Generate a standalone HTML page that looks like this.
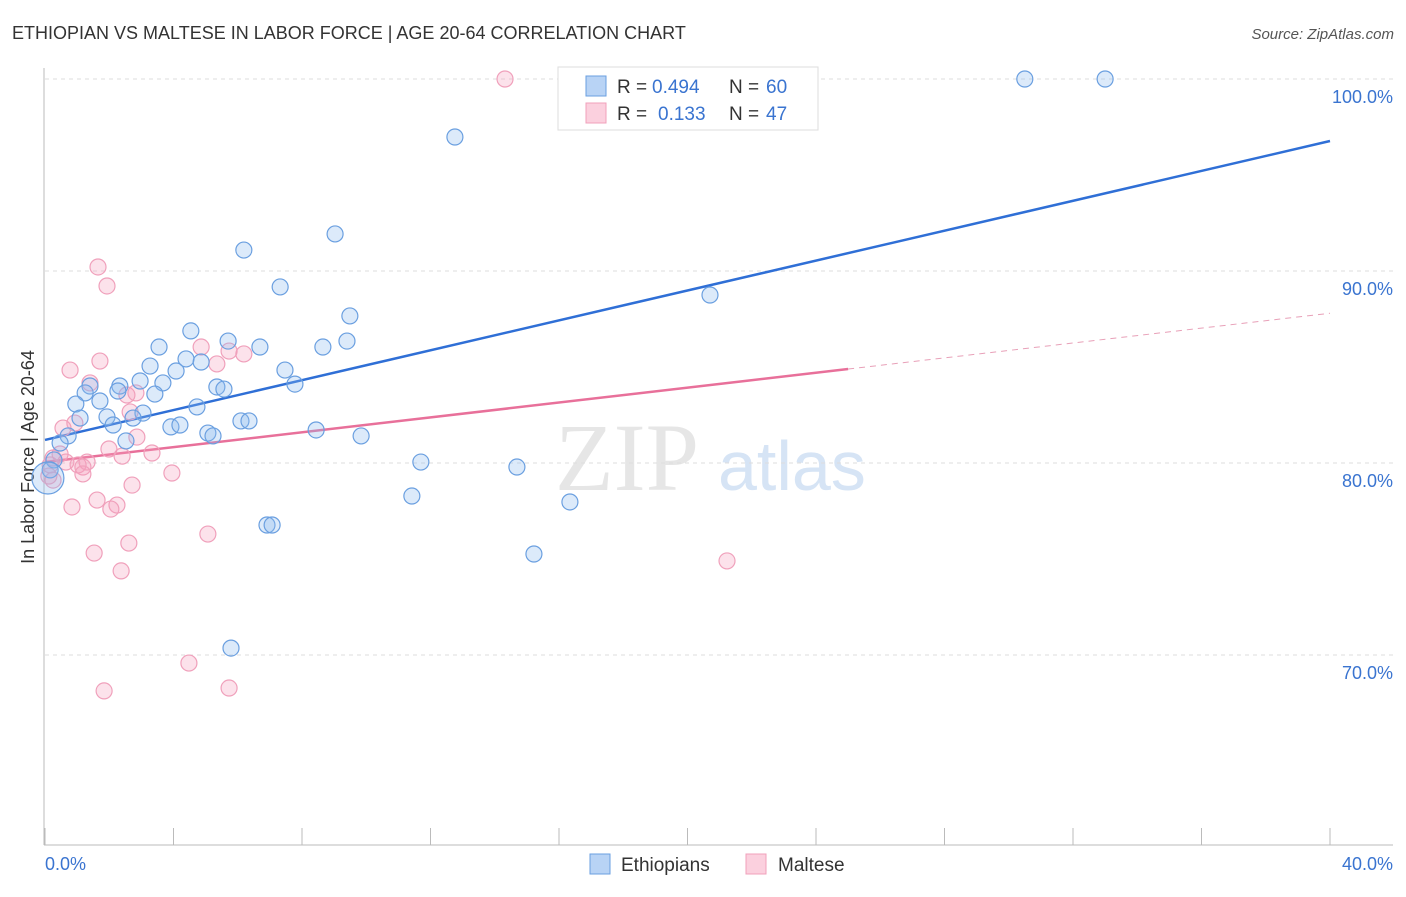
<!DOCTYPE html>
<html><head><meta charset="utf-8"><style>
body{margin:0;background:#fff;font-family:"Liberation Sans",sans-serif}
</style></head><body>
<svg id="c" width="1406" height="892" xmlns="http://www.w3.org/2000/svg">
<text x="12" y="39" font-size="18" fill="#333">ETHIOPIAN VS MALTESE IN LABOR FORCE | AGE 20-64 CORRELATION CHART</text>
<text x="1394" y="39" font-size="15" fill="#555" font-style="italic" text-anchor="end">Source: ZipAtlas.com</text>
<text x="555" y="490" font-size="96" fill="#e6e6e6" font-family="Liberation Serif,serif">ZIP</text>
<text x="718" y="490" font-size="70" fill="#d6e4f5">atlas</text>
<text transform="translate(34,457) rotate(-90)" font-size="18" fill="#333" text-anchor="middle">In Labor Force | Age 20-64</text>
<g id="grid"></g><g id="axes"></g><g id="lines"></g><g id="pts"></g>
<g>
<rect x="558" y="67" width="260" height="63" fill="#fff" stroke="#ddd"/>
<rect x="586" y="76" width="20" height="20" fill="#b8d3f5" stroke="#6a9fe0"/>
<rect x="586" y="103" width="20" height="20" fill="#fbd0de" stroke="#f0a0bb"/>
<text x="617" y="93" font-size="19" fill="#333">R =</text>
<text x="652" y="93" font-size="19" fill="#3a74d0">0.494</text>
<text x="729" y="93" font-size="19" fill="#333">N =</text>
<text x="766" y="93" font-size="19" fill="#3a74d0">60</text>
<text x="617" y="120" font-size="19" fill="#333">R =</text>
<text x="658" y="120" font-size="19" fill="#3a74d0">0.133</text>
<text x="729" y="120" font-size="19" fill="#333">N =</text>
<text x="766" y="120" font-size="19" fill="#3a74d0">47</text>
</g>
<g>
<rect x="590" y="854" width="20" height="20" fill="#b8d3f5" stroke="#6a9fe0"/>
<text x="621" y="871" font-size="19" fill="#333">Ethiopians</text>
<rect x="746" y="854" width="20" height="20" fill="#fbd0de" stroke="#f0a0bb"/>
<text x="778" y="871" font-size="19" fill="#333">Maltese</text>
</g>
</svg>
<script>
const yTicks=[70,80,90,100];
const xTickLabels=["0.0%","40.0%"];
const blueX=[30.5,33.0,12.76,9.03,6.19,7.32,20.70,9.49,4.54,5.70,6.69,3.55,9.40,8.65,4.39,4.86,3.27,4.08,7.47,2.96,3.67,5.35,5.57,7.78,1.40,2.33,1.25,3.42,2.27,1.71,0.96,3.05,4.73,1.09,1.93,2.74,2.12,6.10,6.35,3.92,4.20,5.07,5.23,8.44,9.84,0.72,2.52,0.47,11.70,14.69,0.28,0.16,11.42,16.34,6.91,7.07,15.22,5.79,0.09];
const blueY=[100,100,96.98,91.93,91.09,89.17,88.75,87.66,86.88,86.35,86.04,86.04,86.35,86.04,85.42,85.26,85.05,84.79,84.84,84.27,84.17,83.96,83.85,84.11,84.01,84.01,83.65,83.59,83.75,83.23,83.07,82.60,82.92,82.34,82.40,82.34,81.98,82.19,82.19,81.88,81.98,81.56,81.41,81.72,81.41,81.41,81.15,81.04,80.05,79.79,80.16,79.64,78.28,77.97,76.77,76.77,75.26,70.36,79.22];
const pinkX=[14.32,1.65,1.93,4.86,5.73,6.19,5.35,1.71,0.78,1.40,2.55,2.83,2.65,0.93,0.56,2.86,1.99,3.33,2.40,0.47,0.25,0.65,1.31,1.03,1.18,0.16,1.18,3.95,0.12,0.25,2.71,1.62,0.84,2.24,2.05,2.61,5.07,1.53,2.37,21.23,4.48,1.84,5.73];
const pinkY=[100,90.21,89.22,86.04,85.83,85.68,85.16,85.31,84.84,84.17,83.54,83.65,82.66,82.08,81.82,81.35,80.73,80.52,80.36,80.47,80.26,80.05,80.05,79.90,79.79,79.90,79.43,79.48,79.32,79.11,78.85,78.07,77.71,77.81,77.60,75.83,76.30,75.31,74.38,74.90,69.58,68.13,68.28];
const blueTrend=[81.2,96.77];
const pinkTrend=[80.05,87.8];
const pinkSolidEnd=25;
const NS="http://www.w3.org/2000/svg";
const X=v=>45+v*32.125, Y=v=>79+(100-v)*19.2;
function mk(t,a,p){const e=document.createElementNS(NS,t);for(const k in a)e.setAttribute(k,a[k]);p.appendChild(e);return e;}
const g=document.getElementById('grid'),ax=document.getElementById('axes'),ln=document.getElementById('lines'),pts=document.getElementById('pts');
yTicks.forEach(t=>{
 const l=mk('line',{x1:45,x2:1393,y1:Y(t),y2:Y(t),stroke:'#ddd','stroke-dasharray':'4,4'},g);
 
 
 const tx=mk('text',{x:1393,y:Y(t)+24,'font-size':18,fill:'#3a74d0','text-anchor':'end'},g);
 tx.textContent=t.toFixed(1)+'%';
 
 
});
mk('line',{x1:44,x2:44,y1:68,y2:845,stroke:'#bbb'},ax);
mk('line',{x1:44,x2:1393,y1:845,y2:845,stroke:'#bbb'},ax);
for(let i=0;i<=10;i++){const x=X(i*4);mk('line',{x1:x,x2:x,y1:828,y2:845,stroke:'#bbb'},ax);}
const xl0=mk('text',{x:45,y:870,'font-size':18,fill:'#3a74d0'},ax);xl0.textContent=xTickLabels[0];


const xl1=mk('text',{x:1393,y:870,'font-size':18,fill:'#3a74d0','text-anchor':'end'},ax);xl1.textContent=xTickLabels[1];


const bl=mk('line',{x1:X(0),y1:Y(blueTrend[0]),x2:X(40),y2:Y(blueTrend[1]),stroke:'#2f6fd6','stroke-width':2.5},ln);


const pm=pinkTrend[0]+(pinkTrend[1]-pinkTrend[0])*pinkSolidEnd/40;
const pl=mk('line',{x1:X(0),y1:Y(pinkTrend[0]),x2:X(pinkSolidEnd),y2:Y(pm),stroke:'#e8709a','stroke-width':2.5},ln);


const pd=mk('line',{x1:X(pinkSolidEnd),y1:Y(pm),x2:X(40),y2:Y(pinkTrend[1]),stroke:'#e8a0b8','stroke-width':1,'stroke-dasharray':'6,5'},ln);


pinkX.forEach((v,i)=>{
 const c=mk('circle',{cx:X(v),cy:Y(pinkY[i]),r:8,fill:'rgba(244,160,190,0.3)',stroke:'#f0a0bb','stroke-width':1.2},pts);
 
 
});
blueX.forEach((v,i)=>{
 const big=i===blueX.length-1;
 const c=mk('circle',{cx:X(v),cy:Y(blueY[i]),r:big?16:8,fill:'rgba(140,185,240,0.3)',stroke:'#6a9fe0','stroke-width':1.2},pts);
 
 
});
</script>
</body></html>
